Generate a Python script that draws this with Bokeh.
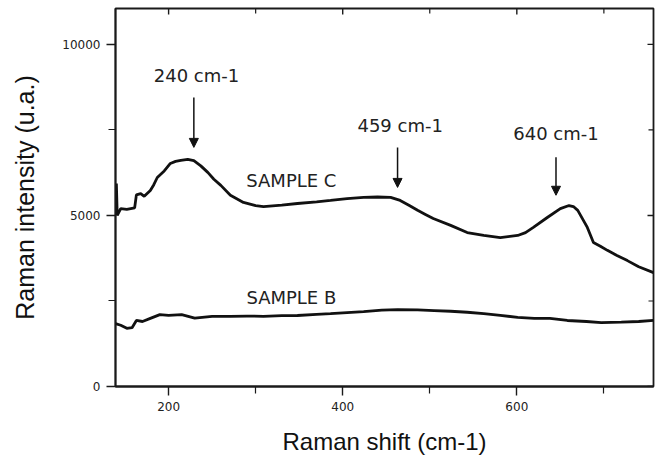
import math
from bokeh.plotting import figure
from bokeh.models import LinearAxis, FixedTicker, Range1d, Arrow, NormalHead, ColumnDataSource
from bokeh.core.properties import value
from bokeh.embed import file_html
from bokeh.resources import INLINE

# ---- data ----
shift_c = [139, 140, 141, 145, 152, 161, 163, 168, 172, 179, 183, 187, 195, 202, 208, 214, 222, 229,
           237, 245, 252, 260, 271, 286, 300, 309, 330, 348, 370, 386, 405, 424, 440, 455, 466, 476,
           486, 495, 504, 524, 543, 562, 581, 601, 610, 619, 635, 650, 660, 665, 670, 681, 688, 696,
           704, 715, 727, 740, 757]
int_c = [5030, 5930, 5000, 5200, 5180, 5220, 5600, 5640, 5560, 5730, 5900, 6110, 6300, 6520, 6580, 6610,
         6640, 6600, 6450, 6260, 6060, 5880, 5590, 5380, 5290, 5260, 5300, 5350, 5400, 5440, 5490, 5530,
         5540, 5530, 5440, 5300, 5150, 5030, 4910, 4710, 4500, 4415, 4350, 4415, 4500, 4650, 4940, 5200,
         5290, 5260, 5150, 4650, 4210, 4100, 3980, 3830, 3680, 3500, 3330]

shift_b = [139, 145, 152, 158, 163, 170, 179, 190, 200, 215, 230, 250, 271, 290, 309, 330, 348, 370,
           386, 405, 424, 445, 463, 486, 505, 524, 543, 562, 581, 601, 620, 638, 658, 680, 697, 720,
           740, 757]
int_b = [1840, 1790, 1700, 1720, 1930, 1900, 1990, 2100, 2080, 2100, 2000, 2050, 2050, 2060, 2050, 2070,
         2075, 2110, 2130, 2160, 2190, 2230, 2250, 2240, 2220, 2200, 2170, 2130, 2080, 2020, 1990, 1990,
         1930, 1900, 1870, 1880, 1900, 1930]

x_min, x_max = 139, 757
y_min, y_max = 0, 11050
x_ticks = [200, 400, 600]
x_minor = [300, 500, 700]
y_ticks = [0, 5000, 10000]
y_minor = [2500, 7500]

peak_labels = ["240 cm-1", "459 cm-1", "640 cm-1"]
peak_label_x = [232, 466, 645]
peak_label_y = [9090, 7630, 7400]
arrow_x = [229, 463, 645]
arrow_y_start = [8450, 6990, 6700]
arrow_y_end = [6990, 5820, 5590]

sample_labels = ["SAMPLE C", "SAMPLE B"]
sample_label_x = [341, 341]
sample_label_y = [6020, 2600]

AX = "#1a1a1a"

p = figure(frame_width=538, frame_height=378,
           min_border_left=115, min_border_right=2, min_border_top=8, min_border_bottom=69,
           x_range=Range1d(x_min, x_max), y_range=Range1d(y_min, y_max),
           x_axis_location=None, y_axis_location=None,
           output_backend="svg", toolbar_location=None)
p.grid.visible = False
p.outline_line_color = AX
p.outline_line_width = 1.8
p.background_fill_color = "white"
p.border_fill_color = "white"


def style(ax, font_size, standoff):
    ax.axis_line_color = AX
    ax.axis_line_width = 1.8
    ax.major_tick_line_color = AX
    ax.minor_tick_line_color = AX
    ax.major_tick_line_width = 1.4
    ax.minor_tick_line_width = 1.2
    ax.major_tick_in = 0
    ax.major_tick_out = 9
    ax.minor_tick_in = 0
    ax.minor_tick_out = 7
    ax.major_label_text_font = "DejaVu Sans"
    ax.major_label_text_font_size = "12px"
    ax.major_label_text_color = "#222222"
    ax.major_label_standoff = 6
    ax.axis_label_text_font = "Liberation Sans"
    ax.axis_label_text_font_style = "normal"
    ax.axis_label_text_color = "#111111"
    ax.axis_label_text_font_size = font_size
    ax.axis_label_standoff = standoff


xb = LinearAxis(ticker=FixedTicker(ticks=x_ticks, minor_ticks=x_minor), axis_label="Raman shift (cm-1)")
style(xb, "24px", 14)
p.add_layout(xb, "below")

yl = LinearAxis(ticker=FixedTicker(ticks=y_ticks, minor_ticks=y_minor), axis_label="Raman intensity (u.a.)")
style(yl, "25px", 20)
p.add_layout(yl, "left")

# inward ticks on the top and right frame edges (half of each dash is clipped by the frame)
p.scatter(x=x_ticks, y=[y_max] * len(x_ticks), marker="dash", angle=math.pi / 2, size=12,
          line_color=AX, line_width=1.4)
p.scatter(x=x_minor, y=[y_max] * len(x_minor), marker="dash", angle=math.pi / 2, size=10,
          line_color=AX, line_width=1.2)
p.scatter(x=[x_max] * len(y_ticks), y=y_ticks, marker="dash", size=12, line_color=AX, line_width=1.4)
p.scatter(x=[x_max] * len(y_minor), y=y_minor, marker="dash", size=10, line_color=AX, line_width=1.2)

p.line(shift_c, int_c, line_color="#111111", line_width=2.8)
p.line(shift_b, int_b, line_color="#111111", line_width=2.8)

arrows = ColumnDataSource(dict(x0=arrow_x, y0=arrow_y_start, x1=arrow_x, y1=arrow_y_end))
p.add_layout(Arrow(source=arrows, x_start="x0", y_start="y0", x_end="x1", y_end="y1",
                   line_color="#111111", line_width=1.5,
                   end=NormalHead(size=9, fill_color="#111111", line_color="#111111")))

p.text(x=peak_label_x, y=peak_label_y, text=peak_labels, text_font=value("DejaVu Sans"),
       text_font_size="18px", text_align="center", text_baseline="middle", text_color="#222222")
p.text(x=sample_label_x, y=sample_label_y, text=sample_labels, text_font=value("DejaVu Sans"),
       text_font_size="18px", text_align="center", text_baseline="middle", text_color="#222222")

open("out.html", "w").write(file_html(p, INLINE))
